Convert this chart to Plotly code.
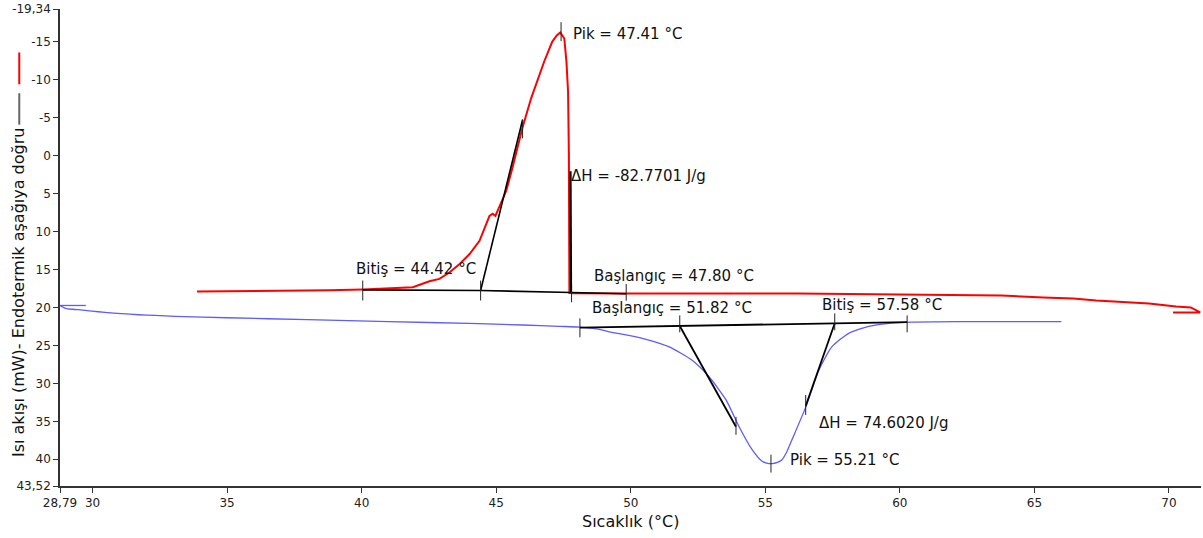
import plotly.graph_objects as go

# ---- data ----
red_x = [33.88, 36.0, 38.81, 40.05, 41.29, 41.90, 42.52, 42.89, 43.27, 43.64, 44.01, 44.38,
         44.75, 44.87, 44.97, 45.37, 45.60, 45.97, 46.30, 46.78, 47.08, 47.25, 47.38, 47.53,
         47.61, 47.67, 47.70, 47.71, 47.72, 47.90, 49.78, 56.19, 62.11, 63.78, 65.33, 66.44,
         67.30, 68.41, 69.26, 70.26, 70.81, 71.16, 70.15]
red_y = [17.89, 17.85, 17.74, 17.63, 17.46, 17.33, 16.54, 16.23, 15.36, 14.26, 12.95, 11.21,
         7.93, 7.63, 7.93, 4.65, 1.63, -3.63, -7.6, -12.39, -15.01, -15.85, -16.25, -15.45,
         -12.39, -8.46, 0.0, 10.0, 18.10, 18.12, 18.16, 18.16, 18.42, 18.42, 18.68, 18.80,
         19.07, 19.33, 19.46, 19.86, 19.99, 20.64, 20.64]

blue_x = [29.75, 28.79, 29.04, 29.47, 29.97, 30.46, 31.08, 31.70, 32.32, 33.06, 35.0, 38.0,
          41.0, 44.0, 46.0, 47.35, 48.09, 48.80, 49.20, 50.43, 51.43, 52.28, 52.91, 53.54,
          54.02, 54.51, 54.88, 55.05, 55.25, 55.45, 55.62, 55.80, 55.99, 56.51, 56.99, 57.47,
          58.10, 58.84, 59.70, 60.44, 62.18, 66.0]
blue_y = [19.73, 19.73, 20.16, 20.29, 20.47, 20.64, 20.81, 20.95, 21.04, 21.17, 21.35, 21.60,
          21.85, 22.10, 22.30, 22.48, 22.57, 22.85, 23.20, 24.05, 25.19, 26.94, 29.13, 32.18,
          35.68, 38.74, 40.27, 40.50, 40.57, 40.40, 40.05, 39.00, 37.42, 33.06, 28.25, 25.19,
          23.40, 22.48, 22.05, 21.92, 21.86, 21.86]

# analysis construction lines
red_base_x = [40.04, 44.42, 47.80, 49.83]
red_base_y = [17.67, 17.76, 18.02, 18.19]
red_tan1_x = [44.42, 45.98]
red_tan1_y = [17.76, -4.75]
red_tan2_x = [47.76, 47.78]
red_tan2_y = [2.03, 18.02]
red_tick_x = [40.04, 44.42, 47.80, 49.83, 47.41, 45.98]
red_tick_y0 = [16.45, 16.45, 17.80, 16.90, -17.60, -4.80]
red_tick_y1 = [19.07, 19.07, 19.30, 19.10, -15.10, -2.30]

blue_base_x = [48.11, 60.27]
blue_base_y = [22.65, 21.92]
blue_tan1_x = [51.82, 53.91]
blue_tan1_y = [22.43, 35.72]
blue_tan2_x = [57.58, 56.50]
blue_tan2_y = [22.08, 32.97]
blue_tick_x = [48.11, 51.82, 57.58, 60.27, 55.21, 53.91, 56.50]
blue_tick_y0 = [21.43, 21.04, 20.77, 21.04, 39.39, 34.41, 31.52]
blue_tick_y1 = [23.92, 23.27, 23.00, 23.27, 41.75, 36.77, 34.15]

labels = ["Pik = 47.41 °C", "ΔH = -82.7701 J/g", "Bitiş = 44.42 °C", "Başlangıç = 47.80 °C",
          "Başlangıç = 51.82 °C", "Bitiş = 57.58 °C", "ΔH = 74.6020 J/g", "Pik = 55.21 °C"]
label_x = [47.79, 47.72, 39.70, 48.57, 48.50, 57.03, 56.92, 55.84]
label_y = [-16.06, 2.68, 14.88, 15.79, 20.12, 19.73, 35.20, 40.05]

x_tickvals = [28.79, 30, 35, 40, 45, 50, 55, 60, 65, 70]
x_ticktext = ["28,79", "30", "35", "40", "45", "50", "55", "60", "65", "70"]
y_tickvals = [-19.34, -15, -10, -5, 0, 5, 10, 15, 20, 25, 30, 35, 40, 43.52]
y_ticktext = ["-19,34", "-15", "-10", "-5", "0", "5", "10", "15", "20", "25", "30", "35", "40", "43,52"]

FONT = "DejaVu Sans"


def segs(xs, y0s, y1s):
    X, Y = [], []
    for x, a, b in zip(xs, y0s, y1s):
        X += [x, x, None]
        Y += [a, b, None]
    return X, Y


fig = go.Figure()
# start hook of the blue trace, then its smooth body
fig.add_trace(go.Scatter(x=blue_x[:2], y=blue_y[:2], mode="lines",
                         line=dict(color="#5c5cff", width=1.3), hoverinfo="skip"))
fig.add_trace(go.Scatter(x=blue_x[1:], y=blue_y[1:], mode="lines",
                         line=dict(color="#5c5cff", width=1.3, shape="spline", smoothing=0.6),
                         hoverinfo="skip"))
fig.add_trace(go.Scatter(x=red_x, y=red_y, mode="lines",
                         line=dict(color="#ff0000", width=2), hoverinfo="skip"))

for lx, ly, w in [(red_base_x, red_base_y, 1.6), (red_tan1_x, red_tan1_y, 1.6),
                  (red_tan2_x, red_tan2_y, 2.2), (blue_base_x, blue_base_y, 1.8),
                  (blue_tan1_x, blue_tan1_y, 1.8), (blue_tan2_x, blue_tan2_y, 1.8)]:
    fig.add_trace(go.Scatter(x=lx, y=ly, mode="lines",
                             line=dict(color="black", width=w), hoverinfo="skip"))

for tx, t0, t1 in [(red_tick_x, red_tick_y0, red_tick_y1),
                   (blue_tick_x, blue_tick_y0, blue_tick_y1)]:
    X, Y = segs(tx, t0, t1)
    fig.add_trace(go.Scatter(x=X, y=Y, mode="lines",
                             line=dict(color="#222222", width=1), hoverinfo="skip"))

for t, x, y in zip(labels, label_x, label_y):
    fig.add_annotation(x=x, y=y, text=t, showarrow=False, xanchor="left", yanchor="middle",
                       font=dict(family=FONT, size=15, color="#111111"))

# axis titles
fig.add_annotation(xref="paper", yref="paper", x=-0.0368, y=0.4046,
                   text="Isı akışı (mW)- Endotermik aşağıya doğru", textangle=-90,
                   showarrow=False, xanchor="center", yanchor="middle",
                   font=dict(family=FONT, size=16, color="#111111"))
fig.add_annotation(xref="paper", yref="paper", x=0.4996, y=-0.074,
                   text="Sıcaklık (°C)", showarrow=False, xanchor="center", yanchor="middle",
                   font=dict(family=FONT, size=16, color="#111111"))
fig.add_shape(type="line", xref="paper", yref="paper", x0=-0.0357, x1=-0.0357,
              y0=0.9089, y1=0.8421, line=dict(color="#ff0000", width=2))
fig.add_shape(type="line", xref="paper", yref="paper", x0=-0.0357, x1=-0.0357,
              y0=0.8234, y1=0.7575, line=dict(color="#666666", width=2))

fig.update_layout(
    width=1203, height=538,
    margin=dict(l=60, r=2, t=7, b=52),
    paper_bgcolor="white", plot_bgcolor="white",
    showlegend=False,
    font=dict(family=FONT, size=12, color="#222222"),
    xaxis=dict(range=[28.79, 71.19], tickvals=x_tickvals, ticktext=x_ticktext,
               showgrid=False, zeroline=False, showline=True, linecolor="#333333",
               linewidth=1.5, ticks="outside", ticklen=5, tickcolor="#333333",
               tickfont=dict(family=FONT, size=12, color="#222222")),
    yaxis=dict(range=[43.52, -19.34], tickvals=y_tickvals, ticktext=y_ticktext,
               showgrid=False, zeroline=False, showline=True, linecolor="#333333",
               linewidth=1.5, ticks="outside", ticklen=5, tickcolor="#333333",
               tickfont=dict(family=FONT, size=12, color="#222222")),
)

fig.write_html("out.html", config={"displayModeBar": False},
               post_script="document.body.style.margin='0';")
